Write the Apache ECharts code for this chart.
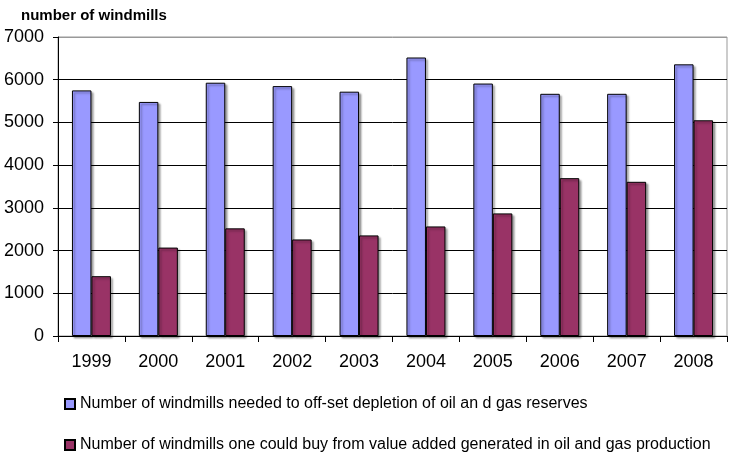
<!DOCTYPE html>
<html>
<head>
<meta charset="utf-8">
<script src="https://cdn.jsdelivr.net/npm/echarts@6/dist/echarts.min.js"></script>
<style>html,body{margin:0;padding:0;background:#fff;}#c{width:736px;height:454px;}</style>
</head>
<body>
<div id="c"></div>
<script>
const years = ['1999','2000','2001','2002','2003','2004','2005','2006','2007','2008'];
const neededValues = [5750, 5480, 5930, 5850, 5720, 6520, 5910, 5670, 5670, 6360];
const buyValues = [1400, 2070, 2520, 2260, 2355, 2565, 2870, 3695, 3610, 5050];
const seriesNames = [
  'Number of windmills needed to off-set depletion of oil an d gas reserves',
  'Number of windmills one could buy from value added generated in oil and gas production'
];
const yTitle = 'number of windmills';

const chart = echarts.init(document.getElementById('c'));
const font = 'Liberation Sans, Arial, sans-serif';
const barStyle = (color) => ({
  color: color,
  borderColor: '#000',
  borderWidth: 1,
  shadowColor: 'rgba(0,0,0,0.35)',
  shadowOffsetX: 2,
  shadowOffsetY: 2,
  shadowBlur: 2
});
const legendBase = {
  orient: 'vertical',
  left: 64,
  padding: 0,
  itemWidth: 10, itemHeight: 10,
  icon: 'rect',
  textStyle: { fontFamily: font, fontSize: 16, color: '#000' }
};
chart.setOption({
  animation: false,
  backgroundColor: '#fff',
  title: {
    text: yTitle,
    left: 16, top: 3,
    textStyle: { fontFamily: font, fontSize: 15, fontWeight: 'bold', color: '#000' }
  },
  grid: { left: 58, right: 9, top: 37, bottom: 118, containLabel: false,
          show: true, borderColor: '#999', borderWidth: 1 },
  legend: [
    Object.assign({}, legendBase, { top: 396, data: [seriesNames[0]] }),
    Object.assign({}, legendBase, { top: 437, data: [seriesNames[1]] })
  ],
  xAxis: {
    type: 'category',
    data: years,
    boundaryGap: true,
    axisLine: { lineStyle: { color: '#000', width: 1 } },
    axisTick: { show: true, length: 6, lineStyle: { color: '#000' } },
    axisLabel: { fontFamily: font, fontSize: 18, color: '#000', margin: 17 }
  },
  yAxis: {
    type: 'value',
    min: 0, max: 7000, interval: 1000,
    axisLine: { show: true, lineStyle: { color: '#000', width: 1 } },
    axisTick: { show: true, length: 5, lineStyle: { color: '#000' } },
    axisLabel: { fontFamily: font, fontSize: 18, color: '#000', margin: 14,
                 formatter: (v) => String(v) },
    splitLine: { lineStyle: { color: ['#000','#000','#000','#000','#000','#000','#000','#999'], width: 1 } }
  },
  series: [
    { name: seriesNames[0], type: 'bar', data: neededValues, barWidth: 19.5, barGap: '0%',
      itemStyle: barStyle('#9999FF') },
    { name: seriesNames[1], type: 'bar', data: buyValues, barWidth: 19.5, barGap: '0%',
      itemStyle: barStyle('#993366') }
  ]
});
</script>
</body>
</html>
